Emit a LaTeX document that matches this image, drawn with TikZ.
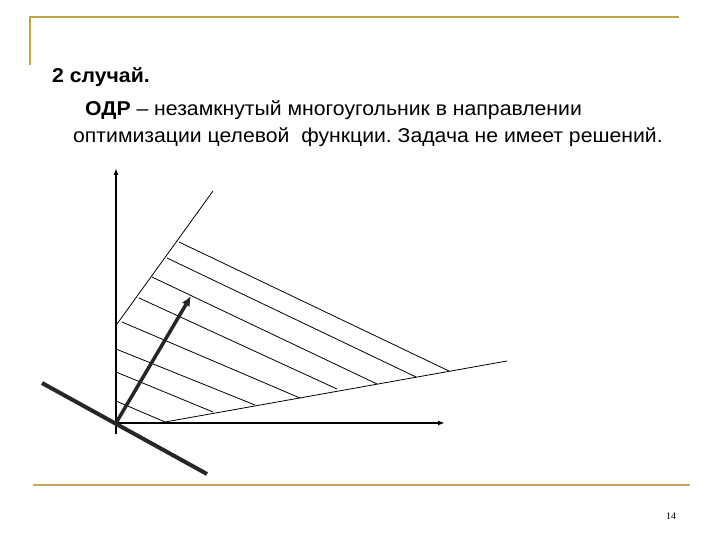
\documentclass[tikz,border=0pt]{standalone}
\usepackage{fontspec}
\setmainfont{Liberation Serif}
\newfontfamily\arialfont{Liberation Sans}
\usetikzlibrary{arrows.meta}
\frenchspacing

\begin{document}
\begin{tikzpicture}[x=1pt, y=-1pt]

% Define colors
\definecolor{mygold}{RGB}{192, 164, 72}
\definecolor{mytan}{RGB}{200, 164, 96}

\useasboundingbox[fill=white] (0, 0) rectangle (720, 540);

% Draw the frame
\draw[mygold, line width=2pt] (30, 65) -- (30, 17) -- (679, 17);
\draw[mytan, line width=2pt] (33, 485) -- (690, 485);

% Add the text
\tikzset{slidetext/.style={anchor=base west, inner sep=0pt, xscale=1.06, font=\arialfont\fontsize{20}{24}\selectfont}}
\node[slidetext, font=\arialfont\bfseries\fontsize{20}{24}\selectfont] (title) at (52, 83) {2 случай.};
\node[slidetext] (line2) at (85, 116) {\textbf{ОДР} – незамкнутый многоугольник в направлении};
\node[slidetext] (line3) at (73, 143) {оптимизации целевой\ \ функции. Задача не имеет решений.};

% Draw the axes
\coordinate (O) at (116, 423);
\draw[line width=2pt, -{Latex[length=7pt, width=5pt]}] (116, 434) -- (116, 168);
\draw[line width=2pt, -{Latex[length=7pt, width=5pt]}] (O) -- (445, 423);

% Draw the boundary rays
\draw[line width=0.8pt] (117, 324) -- (213, 191);
\draw[line width=0.8pt] (165, 422) -- (507, 361);

% Draw the hatch lines
\foreach \xa/\ya/\xb/\yb in {179/242/449/371, 167/258/416/377, 152/277/377/384, 139/298/337/389,
                             122/322/300/398, 116/349/255/405, 116/372/213/412, 116/401/165/422}
  \draw[line width=0.8pt] (\xa, \ya) -- (\xb, \yb);

% Draw the level line and the gradient
\draw[line width=4pt, black!85] (42, 383) -- (207, 474);
\draw[line width=3.5pt, black!85, -{Latex[length=10pt, width=9pt]}] (O) -- (191, 296);

% Add the page number
\node[inner sep=0pt, font=\fontsize{10}{12}\selectfont] (page) at (671, 516) {14};

\end{tikzpicture}
\end{document}
